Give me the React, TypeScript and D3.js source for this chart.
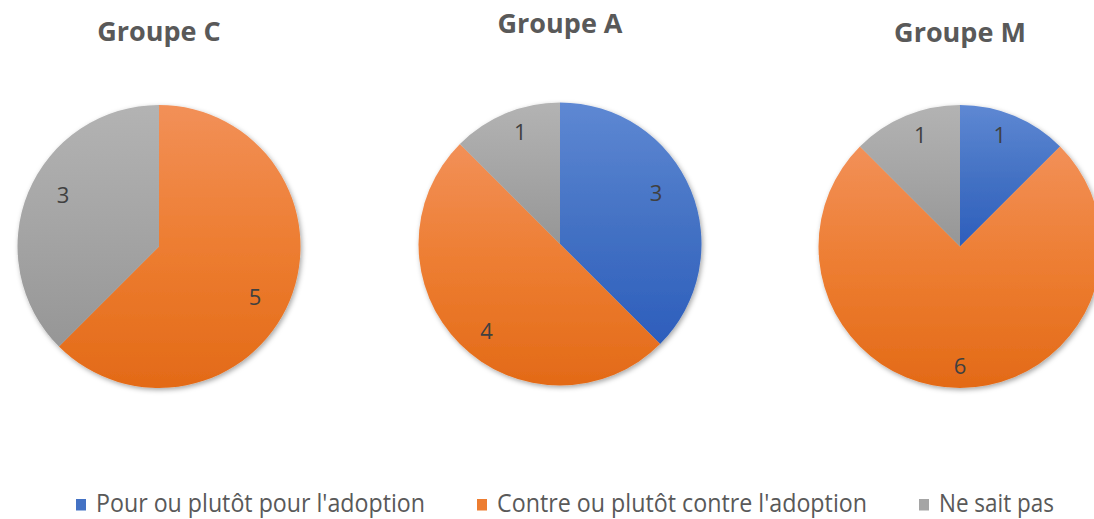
import React from "react";
import * as d3 from "d3";

const categories = ["Pour ou plutôt pour l'adoption", "Contre ou plutôt contre l'adoption", "Ne sait pas"];
const groups = ["Groupe C", "Groupe A", "Groupe M"];
const groupC = [0, 5, 3];
const groupA = [3, 4, 1];
const groupM = [1, 6, 1];
const seriesValues = [groupC, groupA, groupM];

const baseColors = ["#4472C4", "#ED7D31", "#A5A5A5"];
const topColors = ["#5E88D3", "#F29058", "#B3B3B3"];
const bottomColors = ["#2D5EBC", "#E36A17", "#969696"];

const W = 1094;
const H = 519;
const centersX = [159, 560, 960];
const centersY = [246.5, 244, 246.5];
const titleY = [41, 33, 42];
const R = 141.5;

const legendTextW = [329, 370, 115];
const legendStartX = 76;

export default function App() {
  const pie = d3.pie<number>().sort(null).value((d) => d);
  const arc = d3.arc<d3.PieArcDatum<number>>().innerRadius(0).outerRadius(R);
  const labelArc = d3.arc<d3.PieArcDatum<number>>().innerRadius(R * 0.79).outerRadius(R * 0.79);

  const legendItems: { x: number; tx: number; w: number }[] = [];
  let lx = legendStartX;
  legendTextW.forEach((w) => {
    legendItems.push({ x: lx, tx: lx + 20, w });
    lx += 20 + w + 52;
  });

  return (
    <svg
      width={W}
      height={H}
      style={{ position: "absolute", left: 0, top: 0, background: "#fff" }}
      fontFamily="'Open Sans', sans-serif"
    >
      <defs>
        {baseColors.map((c, i) => (
          <linearGradient key={i} id={`grad${i}`} x1="0" y1="0" x2="0" y2="1">
            <stop offset="0" stopColor={topColors[i]} />
            <stop offset="0.5" stopColor={c} />
            <stop offset="1" stopColor={bottomColors[i]} />
          </linearGradient>
        ))}
        <filter id="shadow" x="-20%" y="-20%" width="140%" height="140%">
          <feDropShadow dx="1.5" dy="2" stdDeviation="2.5" floodColor="#000" floodOpacity="0.35" />
        </filter>
      </defs>
      <rect width={W} height={H} fill="#fff" />
      {seriesValues.map((vals, gi) => {
        const arcs = pie(vals);
        return (
          <g key={gi}>
            <text
              x={centersX[gi]}
              y={titleY[gi]}
              textAnchor="middle"
              fontSize={27}
              fontWeight="bold"
              fill="#595959"
            >
              {groups[gi]}
            </text>
            <g transform={`translate(${centersX[gi]},${centersY[gi]})`}>
              <g filter="url(#shadow)">
                {arcs.map((a, i) =>
                  a.value > 0 ? <path key={i} d={arc(a) || ""} fill={`url(#grad${i})`} /> : null
                )}
              </g>
              {arcs.map((a, i) => {
                if (a.value <= 0) return null;
                const [cx, cy] = labelArc.centroid(a);
                const x = cx * 0.93;
                const y = cy + Math.sign(cy) * 8;
                return (
                  <text key={i} x={x} y={y} dy="0.35em" textAnchor="middle" fontSize={22} fill="#404040">
                    {a.value}
                  </text>
                );
              })}
            </g>
          </g>
        );
      })}
      {categories.map((c, i) => (
        <g key={i}>
          <rect x={legendItems[i].x} y={499} width={10} height={11.5} fill={baseColors[i]} />
          <text
            x={legendItems[i].tx}
            y={512}
            fontSize={25}
            fill="#595959"
            textLength={legendItems[i].w}
            lengthAdjust="spacingAndGlyphs"
          >
            {c}
          </text>
        </g>
      ))}
    </svg>
  );
}
